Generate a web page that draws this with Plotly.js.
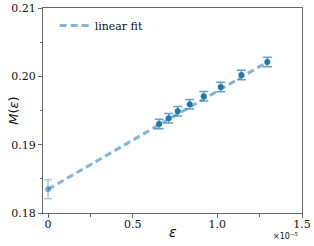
<!DOCTYPE html>
<html>
<head>
<meta charset="utf-8">
<script src="https://cdn.plot.ly/plotly-3.0.1.min.js"></script>
<style>html,body{margin:0;padding:0;background:#fff}#chart{width:314px;height:246px}</style>
</head>
<body>
<div id="chart"></div>
<script>
// data values
const epsilon = [0.656e-5, 0.713e-5, 0.766e-5, 0.837e-5, 0.920e-5, 1.020e-5, 1.142e-5, 1.295e-5];
const M = [0.19302, 0.19386, 0.19489, 0.19591, 0.19708, 0.19844, 0.20020, 0.20210];
const Merr = [0.0007, 0.0007, 0.0007, 0.0007, 0.0007, 0.0007, 0.0007, 0.0007];
const extrapEps = [0];
const extrapM = [0.18347];
const extrapErr = [0.0014];
const fitEps = [0, 1.3e-5];
const fitM = [0.18347, 0.20215];
const xTickVals = [0, 0.5e-5, 1.0e-5, 1.5e-5];
const xTickText = ["0", "0.5", "1.0", "1.5"];
const yTickVals = [0.18, 0.19, 0.20, 0.21];
const yTickText = ["0.18", "0.19", "0.20", "0.21"];

const sans = "DejaVu Sans";
const serif = "DejaVu Serif";
const traces = [
  {x: fitEps, y: fitM, mode: "lines", name: "linear fit",
   line: {color: "rgba(31,119,180,0.55)", width: 3, dash: "7px,4px"}},
  {x: extrapEps, y: extrapM, mode: "markers", showlegend: false,
   marker: {color: "rgba(31,119,180,0.55)", size: 6},
   error_y: {type: "data", array: extrapErr, visible: true, color: "rgba(31,119,180,0.4)", thickness: 1.5, width: 4}},
  {x: epsilon, y: M, mode: "markers", showlegend: false,
   marker: {color: "#1f77b4", size: 6},
   error_y: {type: "data", array: Merr, visible: true, color: "rgba(31,119,180,0.7)", thickness: 1.5, width: 4.5}}
];
const layout = {
  width: 314, height: 246,
  margin: {l: 43, r: 12, t: 8, b: 33},
  paper_bgcolor: "#fff", plot_bgcolor: "#fff",
  font: {family: serif, color: "#111"},
  showlegend: true,
  legend: {x: 0.045, y: 0.985, xanchor: "left", yanchor: "top", bgcolor: "rgba(0,0,0,0)",
    font: {family: serif, size: 11, color: "#111"}},
  xaxis: {
    showgrid: false, zeroline: false, showline: true, mirror: true,
    linecolor: "#666", linewidth: 1, ticks: "outside", ticklen: 4, tickcolor: "#666",
    ticklabelstandoff: -3,
    tickfont: {family: serif, size: 11, color: "#111"},
    range: [-0.0295e-5, 1.5e-5], tickvals: xTickVals, ticktext: xTickText,
    minor: {tickvals: [0.25e-5, 1.25e-5], ticks: "outside", ticklen: 2.5, tickcolor: "#666"}
  },
  yaxis: {
    showgrid: false, zeroline: false, showline: true, mirror: true,
    linecolor: "#666", linewidth: 1, ticks: "outside", ticklen: 4, tickcolor: "#666",
    tickfont: {family: serif, size: 11, color: "#111"},
    range: [0.18, 0.21], tickvals: yTickVals, ticktext: yTickText,
    minor: {tickvals: [0.185, 0.195, 0.205], ticks: "outside", ticklen: 2.5, tickcolor: "#666"}
  },
  annotations: [
    {xref: "paper", yref: "paper", x: 0.995, y: -0.08, xanchor: "right", yanchor: "top",
     text: "×10<sup>−5</sup>", showarrow: false, font: {family: sans, size: 8, color: "#111"}},
    {xref: "paper", yref: "paper", x: 0.5, y: -0.045, xanchor: "center", yanchor: "top",
     text: "<i>ε</i>", showarrow: false, font: {family: sans, size: 14, color: "#111"}},
    {xref: "paper", yref: "paper", x: -0.115, y: 0.5, xanchor: "center", yanchor: "middle", textangle: -90,
     text: "<i>M</i>(<i>ε</i>)", showarrow: false, font: {family: sans, size: 13, color: "#111"}}
  ]
};
Plotly.newPlot("chart", traces, layout, {displayModeBar: false, staticPlot: true});
</script>
</body>
</html>
